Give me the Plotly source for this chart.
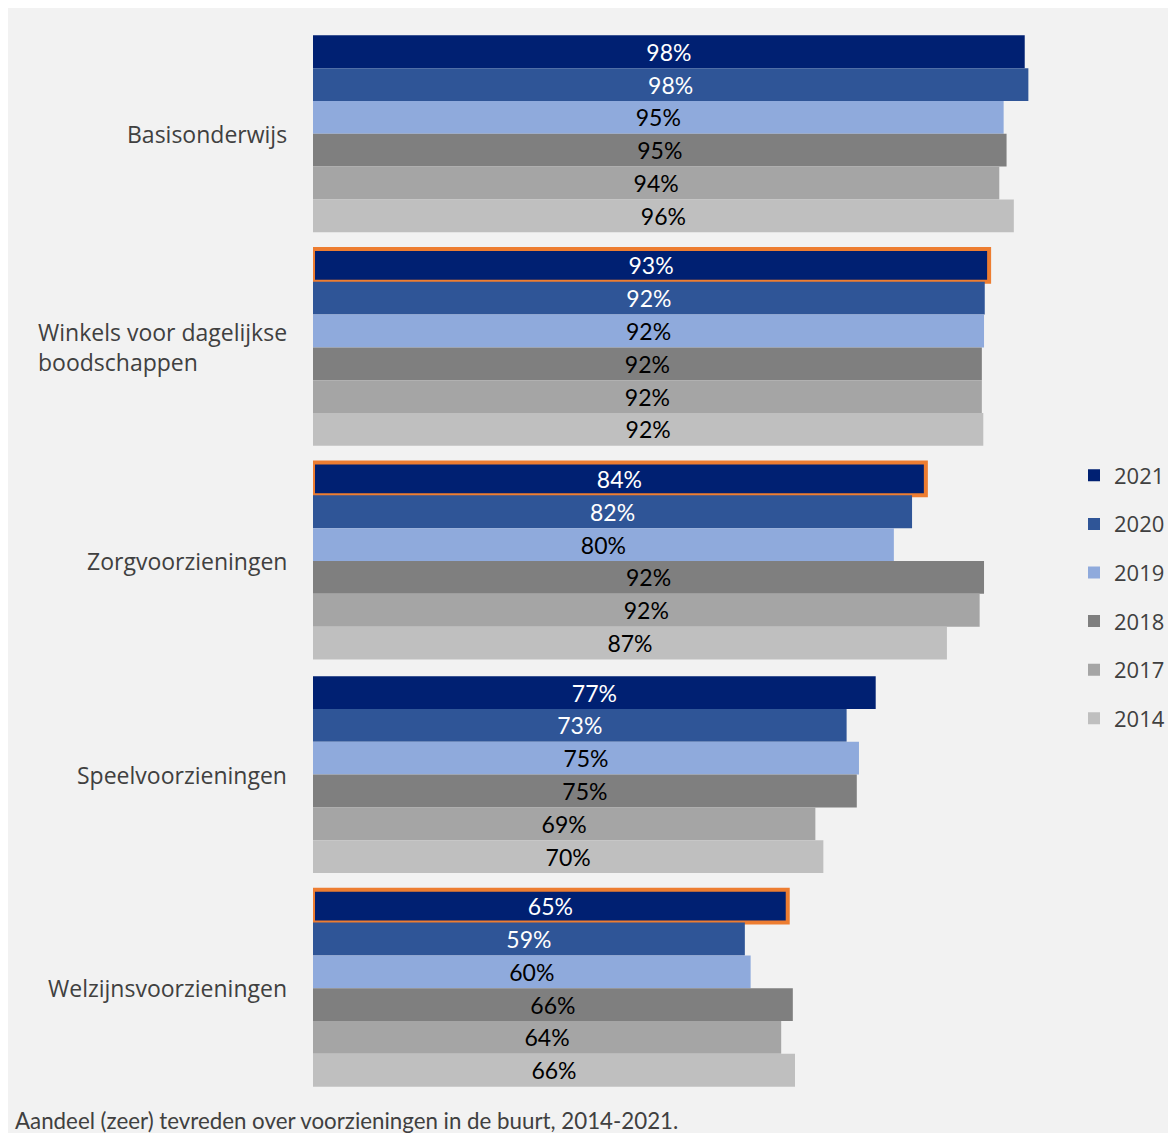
import plotly.graph_objects as go

categories = ["Basisonderwijs", "Winkels voor dagelijkse<br>boodschappen", "Zorgvoorzieningen",
              "Speelvoorzieningen", "Welzijnsvoorzieningen"]
years = ["2021", "2020", "2019", "2018", "2017", "2014"]

v2021 = [97.9, 93.0, 84.3, 77.4, 65.3]
v2020 = [98.4, 92.4, 82.4, 73.4, 59.4]
v2019 = [95.0, 92.3, 79.9, 75.1, 60.2]
v2018 = [95.4, 92.0, 92.3, 74.8, 66.0]
v2017 = [94.4, 92.0, 91.7, 69.1, 64.4]
v2014 = [96.4, 92.2, 87.2, 70.2, 66.3]
values = [v2021, v2020, v2019, v2018, v2017, v2014]

# 2021 bars that got an orange frame
highlight_2021 = [False, True, True, False, True]

colors = ["#002072", "#2f5597", "#8faadc", "#7f7f7f", "#a5a5a5", "#bfbfbf"]
text_colors = ["white", "white", "black", "black", "black", "black"]

# page has an 8px body margin, so the figure is a bit smaller than the window
OFF = 8
W, H = 1176 - OFF, 1133 - OFF
ML, MR, MT, MB = 305, 136, 19, 38
PW, PH = W - ML - MR, H - MT - MB


def px_x(x):
    # screen pixel -> paper coordinate
    return (x - OFF - ML) / PW


def px_y(y):
    return 1 - (y - OFF - MT) / PH


fig = go.Figure()
for i, yr in enumerate(years):
    line_w = [4 if (i == 0 and h) else 0 for h in highlight_2021]
    fig.add_trace(go.Bar(
        y=categories, x=values[i], name=yr, orientation="h",
        marker=dict(color=colors[i], line=dict(color="#ed7d31", width=line_w)),
        text=[f"{v:.0f}%" for v in values[i]], textposition="inside",
        insidetextanchor="middle", textangle=0, constraintext="none",
        textfont=dict(family="Lato", size=23, color=text_colors[i]),
        legendgroup=yr, hoverinfo="skip",
    ))

for c in categories:
    fig.add_annotation(x=0, xref="paper", y=c, yref="y", text=c, showarrow=False,
                       xanchor="right", align="left", xshift=-24,
                       font=dict(family="Open Sans", size=23, color="#404040"))

fig.add_annotation(x=px_x(13), xref="paper", y=px_y(1120), yref="paper",
                   text="Aandeel (zeer) tevreden over voorzieningen in de buurt, 2014-2021.",
                   showarrow=False, xanchor="left", yanchor="middle",
                   font=dict(family="Lato", size=22.3, color="#404040"))

fig.update_layout(
    width=W, height=H,
    margin=dict(l=ML, r=MR, t=MT, b=MB, autoexpand=False),
    paper_bgcolor="#f2f2f2", plot_bgcolor="#f2f2f2",
    barmode="group", bargap=0.078, bargroupgap=0,
    xaxis=dict(range=[0, 100], visible=False),
    yaxis=dict(autorange="reversed", showticklabels=False, showgrid=False, zeroline=False),
    showlegend=True,
    legend=dict(x=px_x(1074), xanchor="left", y=px_y(597), yanchor="middle",
                font=dict(family="Open Sans", size=22, color="#404040"),
                tracegroupgap=17, bgcolor="rgba(0,0,0,0)"),
)

fig.write_html("out.html")
